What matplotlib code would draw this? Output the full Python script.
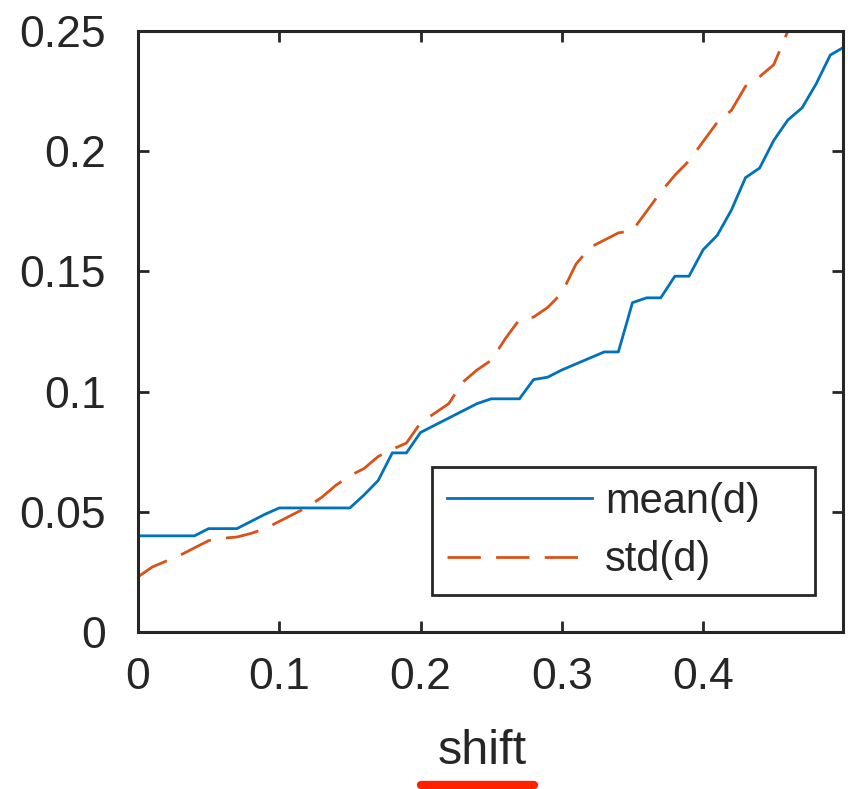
import matplotlib
matplotlib.use('Agg')
from matplotlib import pyplot as plt
from matplotlib.lines import Line2D
import numpy as np

plt.rcParams['font.family'] = ['Liberation Sans', 'DejaVu Sans']

shift = np.round(np.arange(0, 0.501, 0.01), 2)

mean_d = [0.040, 0.040, 0.040, 0.040, 0.040, 0.043, 0.043, 0.043, 0.046, 0.049,
          0.0516, 0.0516, 0.0516, 0.0516, 0.0516, 0.0516, 0.057, 0.063, 0.0745, 0.0745,
          0.083, 0.086, 0.089, 0.092, 0.095, 0.097, 0.097, 0.097, 0.105, 0.106,
          0.109, 0.1115, 0.114, 0.1165, 0.1165, 0.137, 0.139, 0.139, 0.148, 0.148,
          0.159, 0.165, 0.1755, 0.189, 0.193, 0.2045, 0.213, 0.218, 0.228, 0.240,
          0.2434]

std_d = [0.0229, 0.027, 0.0295, 0.032, 0.035, 0.038, 0.039, 0.0395, 0.041, 0.043,
         0.046, 0.049, 0.052, 0.056, 0.061, 0.065, 0.068, 0.073, 0.076, 0.0786,
         0.087, 0.091, 0.095, 0.104, 0.109, 0.113, 0.122, 0.130, 0.131, 0.135,
         0.141, 0.153, 0.160, 0.163, 0.166, 0.167, 0.175, 0.183, 0.190, 0.196,
         0.204, 0.212, 0.217, 0.227, 0.231, 0.236, 0.250, 0.256, 0.265, 0.272,
         0.280]

xticks = [0, 0.1, 0.2, 0.3, 0.4]
yticks = [0, 0.05, 0.1, 0.15, 0.2, 0.25]

fig = plt.figure(figsize=(8.48, 7.89), dpi=100)
ax = fig.add_axes([0.1627, 0.199, 0.8314, 0.7617])

ax.plot(shift, mean_d, color='#0072BD', lw=2.0, label='mean(d)')
ax.plot(shift, std_d, color='#D95319', lw=2.0, dashes=(12, 5.5), label='std(d)')

ax.set_xlim(0, 0.499)
ax.set_ylim(0, 0.25)
ax.set_xticks(xticks)
ax.set_xticklabels(['%g' % t for t in xticks])
ax.set_yticks(yticks)
ax.set_yticklabels(['%g' % t for t in yticks])

dark = '#262626'
for s in ax.spines.values():
    s.set_linewidth(2.2)
    s.set_color(dark)
ax.tick_params(direction='in', length=8, width=2, top=True, right=True,
               labelsize=32, colors=dark)
ax.tick_params(axis='y', pad=23)
ax.tick_params(axis='x', pad=18)
ax.set_xlabel('shift', fontsize=35, color=dark)
ax.xaxis.set_label_coords(0.488, -0.162)

leg = ax.legend(loc='lower left', bbox_to_anchor=(0.417, 0.0616, 0.543, 0.211),
                mode='expand', borderaxespad=0,
                fontsize=30, handlelength=3.5, handletextpad=0.3, labelspacing=0.45,
                borderpad=0.35, fancybox=False, framealpha=1)
leg.get_frame().set_edgecolor(dark)
leg.get_frame().set_linewidth(2)
for t in leg.get_texts():
    t.set_color(dark)

fig.add_artist(Line2D([0.497, 0.63], [0.005, 0.005], transform=fig.transFigure,
                      color='#ff2200', lw=6, solid_capstyle='round'))

fig.savefig('out.png', dpi=100)
